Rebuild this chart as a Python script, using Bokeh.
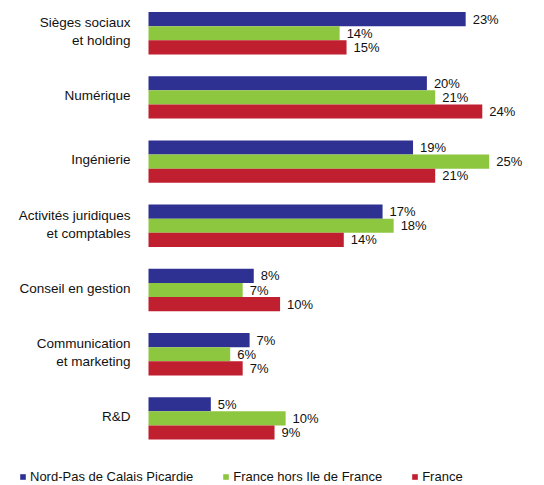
from bokeh.plotting import figure
from bokeh.models import ColumnDataSource, Range1d, Legend, LegendItem
from bokeh.core.properties import value
from bokeh.embed import file_html
from bokeh.resources import INLINE

categories = ["Sièges sociaux\net holding", "Numérique", "Ingénierie",
              "Activités juridiques\net comptables", "Conseil en gestion",
              "Communication\net marketing", "R&D"]
series_names = ["Nord-Pas de Calais Picardie", "France hors Ile de France", "France"]
nord_pas = [22.9, 20.1, 19.1, 16.9, 7.6, 7.3, 4.5]
hors_idf = [13.8, 20.7, 24.6, 17.7, 6.8, 5.9, 9.9]
france = [14.3, 24.1, 20.7, 14.1, 9.5, 6.8, 9.1]
nord_pas_labels = ["23%", "20%", "19%", "17%", "8%", "7%", "5%"]
hors_idf_labels = ["14%", "21%", "25%", "18%", "7%", "6%", "10%"]
france_labels = ["15%", "24%", "21%", "14%", "10%", "7%", "9%"]

colors = ["#2E3192", "#8DC63F", "#C01F2F"]
FONT = "Liberation Sans"

W, H = 544, 485
px_per_unit_x = 13.85
x0_px = 148.0
px_per_cat = 64.2
y0_px = 32.7

p = figure(width=W, height=H, output_backend="svg", toolbar_location=None,
           x_range=Range1d(-x0_px / px_per_unit_x, (W - x0_px) / px_per_unit_x),
           y_range=Range1d((H - y0_px) / px_per_cat, -y0_px / px_per_cat),
           min_border=0, min_border_left=0, min_border_right=0,
           min_border_top=0, min_border_bottom=0)
p.axis.visible = False
p.grid.visible = False
p.outline_line_color = None
p.background_fill_color = "white"
p.border_fill_color = "white"

idx = list(range(len(categories)))
bar_h = 0.22
offsets = [-bar_h, 0.0, bar_h]
all_vals = [nord_pas, hors_idf, france]
all_labels = [nord_pas_labels, hors_idf_labels, france_labels]

items = []
for s in range(3):
    src = ColumnDataSource(dict(y=[i + offsets[s] for i in idx],
                                v=all_vals[s], lab=all_labels[s]))
    r = p.hbar(y="y", right="v", left=0, height=bar_h, source=src,
               fill_color=colors[s], line_color=None)
    p.text(x="v", y="y", text="lab", source=src, x_offset=7,
           text_align="left", text_baseline="middle",
           text_font=value(FONT), text_font_size="13px", text_color="#111111")
    items.append(LegendItem(label=series_names[s], renderers=[r]))

cat_src = ColumnDataSource(dict(x=[0] * len(categories),
                                y=[i - 0.025 for i in idx], t=categories))
p.text(x="x", y="y", text="t", source=cat_src, x_offset=-18,
       text_align="right", text_baseline="middle", text_line_height=1.2,
       text_font=value(FONT), text_font_size="13.5px", text_color="#111111")

legend = Legend(items=items, location=(19, 1), orientation="horizontal",
                glyph_width=7, glyph_height=7, label_standoff=4, spacing=29,
                padding=0, margin=0, border_line_color=None,
                background_fill_alpha=0, label_text_font=FONT,
                label_text_font_size="13px", label_height=14,
                label_text_color="#111111")
p.add_layout(legend, "center")

open("out.html", "w").write(file_html(p, INLINE))
